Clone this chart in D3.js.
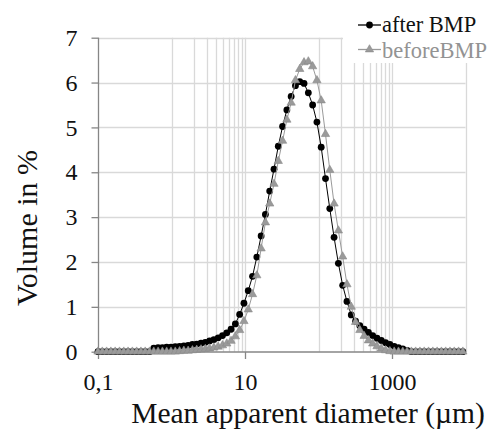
<!DOCTYPE html>
<html><head><meta charset="utf-8">
<script src="https://cdn.jsdelivr.net/npm/d3@7"></script>
<style>
html,body{margin:0;padding:0;background:#fff;}
svg{display:block;font-family:"Liberation Serif","Times New Roman",serif;}
</style></head>
<body>
<svg id="chart" width="500" height="430"></svg>
<script>
const diameters = [0.1,0.1144,0.1309,0.1497,0.1713,0.1960,0.2242,0.2565,0.2934,0.3357,
0.3837,0.4387,0.5018,0.5741,0.6570,0.7516,0.8598,0.9836,1.125,1.287,
1.472,1.684,1.927,2.204,2.521,2.884,3.299,3.775,4.318,4.940,
5.649,6.463,7.393,8.457,9.674,11.07,12.66,14.48,16.57,18.95,
21.68,24.80,28.37,32.45,37.12,42.46,48.58,55.57,63.57,72.72,
83.18,95.15,108.8,124.5,142.4,162.9,186.4,213.2,243.9,279.0,
319.2,365.1,417.7,477.8,546.6,625.2,715.3,818.2,936.0,1071,
1225,1401,1603,1834,2098,2399,2745,3140,3592,4109,
4699,5376,6150,7035,8047,9205];

const afterBMP = [0,0,0,0,0,0,0,0,0,0,
0,0,0,0.08,0.09,0.09,0.10,0.10,0.11,0.12,
0.13,0.14,0.16,0.17,0.19,0.21,0.24,0.27,0.31,0.36,
0.42,0.50,0.62,0.83,1.08,1.36,1.68,2.11,2.58,3.06,
3.58,4.07,4.58,5.02,5.39,5.69,5.93,6.02,5.98,5.77,
5.50,5.12,4.56,3.86,3.19,2.55,1.97,1.48,1.12,0.82,
0.68,0.58,0.50,0.43,0.36,0.30,0.25,0.20,0.16,0.12,
0.09,0.06,0.03,0,0,0,0,0,0,0,
0,0,0,0,0,0];

const beforeBMP = [0,0,0,0,0,0,0,0,0,0,
0,0,0,0,0,0,0,0,0,0.01,
0.02,0.02,0.03,0.04,0.05,0.06,0.07,0.09,0.11,0.14,
0.18,0.24,0.34,0.48,0.68,0.94,1.28,1.70,2.30,2.88,
3.30,3.74,4.25,4.70,5.17,5.55,6.05,6.30,6.45,6.47,
6.36,6.05,5.60,4.85,4.05,3.30,2.70,2.12,1.50,1.00,
0.66,0.48,0.35,0.25,0.18,0.12,0.07,0.03,0.01,0,
0,0,0,0,0,0,0,0,0,0,
0,0,0,0,0,0];

const seriesNames = ["after BMP","beforeBMP"];
const xTickValues = [0.1, 10, 1000];
const xTickLabels = ["0,1","10","1000"];
const yTickValues = [0,1,2,3,4,5,6,7];
const xGridValues = [1,2,3,4,5,6,7,8,9,10,100,200,300,400,500,600,700,800,900,1000,10000];
const xTitle = "Mean apparent diameter (\u00b5m)";
const yTitle = "Volume in %";

const svg = d3.select("#chart");
const x = d3.scaleLog().domain([0.1, 10000]).range([98, 465.5]);
const y = d3.scaleLinear().domain([0, 7]).range([351.7, 37.7]);
const gridColor = "#d9d9d9", axisColor = "#868686";

// horizontal gridlines
svg.append("g").selectAll("line").data(yTickValues.filter(d=>d>0)).join("line")
  .attr("x1", x.range()[0]).attr("x2", x.range()[1])
  .attr("y1", d=>Math.round(y(d))+0.5).attr("y2", d=>Math.round(y(d))+0.5)
  .attr("stroke", gridColor).attr("stroke-width", 1.3);
// vertical gridlines
svg.append("g").selectAll("line").data(xGridValues).join("line")
  .attr("x1", d=>Math.round(x(d))+0.5).attr("x2", d=>Math.round(x(d))+0.5)
  .attr("y1", y.range()[0]).attr("y2", y.range()[1])
  .attr("stroke", gridColor).attr("stroke-width", 1.3);

// axes
const yAxis = d3.axisLeft(y).tickValues(yTickValues).tickSize(7).tickPadding(14).tickFormat(d3.format("d"));
const gy = svg.append("g").attr("transform", "translate(98.5,0)").call(yAxis);
const xAxis = d3.axisBottom(x).tickValues(xTickValues).tickSize(7).tickPadding(14)
  .tickFormat((d,i)=>xTickLabels[i]);
const gx = svg.append("g").attr("transform", "translate(0,352)").call(xAxis);
[gx, gy].forEach(g=>{
  g.select(".domain").attr("stroke", axisColor).attr("stroke-width",1.3);
  g.selectAll(".tick line").attr("stroke", axisColor).attr("stroke-width",1.3);
  g.selectAll("text").attr("fill","#111").style("font-size","24px")
    .style("font-family",'"Liberation Serif","Times New Roman",serif');
});
gx.select(".domain").attr("d", `M${x.range()[0]},0H${x.range()[1]}`);
gy.select(".domain").attr("d", `M0,${y.range()[0]}V${y.range()[1]}`);

// titles
svg.append("text").attr("x", 308).attr("y", 422.5).attr("text-anchor","middle")
  .style("font-size","29.5px").attr("fill","#111").text(xTitle);
svg.append("text").attr("transform","translate(37,228) rotate(-90)").attr("text-anchor","middle")
  .style("font-size","30px").attr("fill","#111").text(yTitle);

const pts = (vals)=>diameters.map((d,i)=>[d, vals[i]]);
const line = d3.line().x(d=>x(d[0])).y(d=>y(d[1]));
const tri = d3.symbol().type(d3.symbolTriangle).size(30);

// after BMP (black)
svg.append("path").datum(pts(afterBMP)).attr("d", line)
  .attr("fill","none").attr("stroke","#000").attr("stroke-width",1);
svg.append("g").selectAll("circle").data(pts(afterBMP)).join("circle")
  .attr("cx", d=>x(d[0])).attr("cy", d=>y(d[1])).attr("r", 3.4).attr("fill","#000");

// beforeBMP (gray)
const gray = "#9a9a9a";
svg.append("path").datum(pts(beforeBMP)).attr("d", line)
  .attr("fill","none").attr("stroke", gray).attr("stroke-width",1);
svg.append("g").selectAll("path").data(pts(beforeBMP)).join("path")
  .attr("d", tri).attr("transform", d=>`translate(${x(d[0])},${y(d[1])})`)
  .attr("fill", gray).attr("stroke","#8a8a8a").attr("stroke-width",0.6);

// legend
const lg = svg.append("g");
lg.append("rect").attr("x",343).attr("y",8).attr("width",157).attr("height",55).attr("fill","#fff");
const rows = [{name:seriesNames[0], color:"#000", text:"#111", y:25, base:32, sym:"circle"},
              {name:seriesNames[1], color:gray, text:"#939393", y:49.5, base:57.5, sym:"tri"}];
rows.forEach(r=>{
  lg.append("line").attr("x1",358).attr("x2",381).attr("y1",r.y).attr("y2",r.y)
    .attr("stroke",r.color).attr("stroke-width",1.3);
  if (r.sym==="circle") lg.append("circle").attr("cx",369.5).attr("cy",r.y).attr("r",3.4).attr("fill",r.color);
  else lg.append("path").attr("d",tri).attr("transform",`translate(369.5,${r.y})`).attr("fill",r.color).attr("stroke","#8a8a8a").attr("stroke-width",0.6);
  lg.append("text").attr("x",382).attr("y",r.base).style("font-size","22.5px").attr("fill",r.text).text(r.name);
});
</script>
</body></html>
